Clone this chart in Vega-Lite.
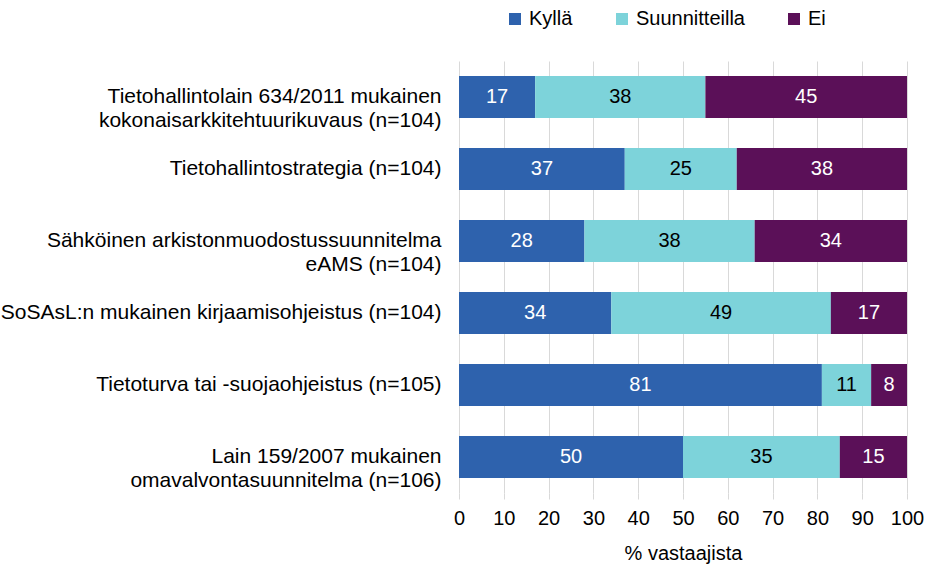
{
  "$schema": "https://vega.github.io/schema/vega-lite/v6.json",
  "autosize": {"type": "none"},
  "width": 448,
  "height": 432,
  "padding": {"left": 459, "top": 61, "right": 20, "bottom": 78},
  "background": "white",
  "config": {
    "font": "Liberation Sans",
    "view": {"stroke": null}
  },
  "data": {
    "values": [
      {"kysymys": "Tietohallintolain 634/2011 mukainen|kokonaisarkkitehtuurikuvaus (n=104)", "vastaus": "Kyllä", "ord": 1, "arvo": 17},
      {"kysymys": "Tietohallintolain 634/2011 mukainen|kokonaisarkkitehtuurikuvaus (n=104)", "vastaus": "Suunnitteilla", "ord": 2, "arvo": 38},
      {"kysymys": "Tietohallintolain 634/2011 mukainen|kokonaisarkkitehtuurikuvaus (n=104)", "vastaus": "Ei", "ord": 3, "arvo": 45},
      {"kysymys": "Tietohallintostrategia (n=104)", "vastaus": "Kyllä", "ord": 1, "arvo": 37},
      {"kysymys": "Tietohallintostrategia (n=104)", "vastaus": "Suunnitteilla", "ord": 2, "arvo": 25},
      {"kysymys": "Tietohallintostrategia (n=104)", "vastaus": "Ei", "ord": 3, "arvo": 38},
      {"kysymys": "Sähköinen arkistonmuodostussuunnitelma|eAMS (n=104)", "vastaus": "Kyllä", "ord": 1, "arvo": 28},
      {"kysymys": "Sähköinen arkistonmuodostussuunnitelma|eAMS (n=104)", "vastaus": "Suunnitteilla", "ord": 2, "arvo": 38},
      {"kysymys": "Sähköinen arkistonmuodostussuunnitelma|eAMS (n=104)", "vastaus": "Ei", "ord": 3, "arvo": 34},
      {"kysymys": "SoSAsL:n mukainen kirjaamisohjeistus (n=104)", "vastaus": "Kyllä", "ord": 1, "arvo": 34},
      {"kysymys": "SoSAsL:n mukainen kirjaamisohjeistus (n=104)", "vastaus": "Suunnitteilla", "ord": 2, "arvo": 49},
      {"kysymys": "SoSAsL:n mukainen kirjaamisohjeistus (n=104)", "vastaus": "Ei", "ord": 3, "arvo": 17},
      {"kysymys": "Tietoturva tai -suojaohjeistus (n=105)", "vastaus": "Kyllä", "ord": 1, "arvo": 81},
      {"kysymys": "Tietoturva tai -suojaohjeistus (n=105)", "vastaus": "Suunnitteilla", "ord": 2, "arvo": 11},
      {"kysymys": "Tietoturva tai -suojaohjeistus (n=105)", "vastaus": "Ei", "ord": 3, "arvo": 8},
      {"kysymys": "Lain 159/2007 mukainen|omavalvontasuunnitelma (n=106)", "vastaus": "Kyllä", "ord": 1, "arvo": 50},
      {"kysymys": "Lain 159/2007 mukainen|omavalvontasuunnitelma (n=106)", "vastaus": "Suunnitteilla", "ord": 2, "arvo": 35},
      {"kysymys": "Lain 159/2007 mukainen|omavalvontasuunnitelma (n=106)", "vastaus": "Ei", "ord": 3, "arvo": 15}
    ]
  },
  "transform": [
    {"stack": "arvo", "groupby": ["kysymys"], "sort": [{"field": "ord", "order": "ascending"}], "as": ["x0", "x1"]},
    {"calculate": "(datum.x0 + datum.x1) / 2", "as": "xmid"}
  ],
  "encoding": {
    "y": {
      "field": "kysymys",
      "type": "nominal",
      "sort": null,
      "title": null,
      "scale": {"paddingInner": 0.42, "paddingOuter": 0.21},
      "axis": {
        "labelExpr": "split(datum.value, '|')",
        "labelFontSize": 21,
        "labelColor": "#000000",
        "labelPadding": 18,
        "labelLimit": 500,
        "labelLineHeight": 24,
        "ticks": false,
        "domain": false,
        "grid": false
      }
    }
  },
  "layer": [
    {
      "mark": {"type": "bar"},
      "encoding": {
        "x": {
          "field": "x0",
          "type": "quantitative",
          "scale": {"domain": [0, 100], "nice": false},
          "title": "% vastaajista",
          "axis": {
            "values": [0, 10, 20, 30, 40, 50, 60, 70, 80, 90, 100],
            "grid": true,
            "gridColor": "#d9d9d9",
            "gridWidth": 1,
            "domain": false,
            "ticks": true,
            "tickColor": "#d9d9d9",
            "tickSize": 6,
            "labelFontSize": 20,
            "labelColor": "#000000",
            "labelPadding": 9,
            "labelFlush": false,
            "titleFontSize": 20,
            "titleFontWeight": "normal",
            "titleColor": "#000000",
            "titlePadding": 15
          }
        },
        "x2": {"field": "x1"},
        "color": {
          "field": "vastaus",
          "type": "nominal",
          "scale": {"domain": ["Kyllä", "Suunnitteilla", "Ei"], "range": ["#2e62ad", "#7dd3da", "#5b1058"]},
          "legend": {
            "title": null,
            "orient": "none",
            "direction": "horizontal",
            "legendX": 46,
            "legendY": -52,
            "symbolType": "square",
            "symbolSize": 144,
            "symbolStrokeWidth": 0,
            "labelFontSize": 20,
            "labelColor": "#000000",
            "labelOffset": 4,
            "columnPadding": 39
          }
        }
      }
    },
    {
      "mark": {"type": "text", "fontSize": 20},
      "encoding": {
        "x": {"field": "xmid", "type": "quantitative"},
        "text": {"field": "arvo", "type": "quantitative"},
        "color": {
          "condition": {"test": "datum.vastaus === 'Suunnitteilla'", "value": "#000000"},
          "value": "#ffffff"
        }
      }
    }
  ]
}
